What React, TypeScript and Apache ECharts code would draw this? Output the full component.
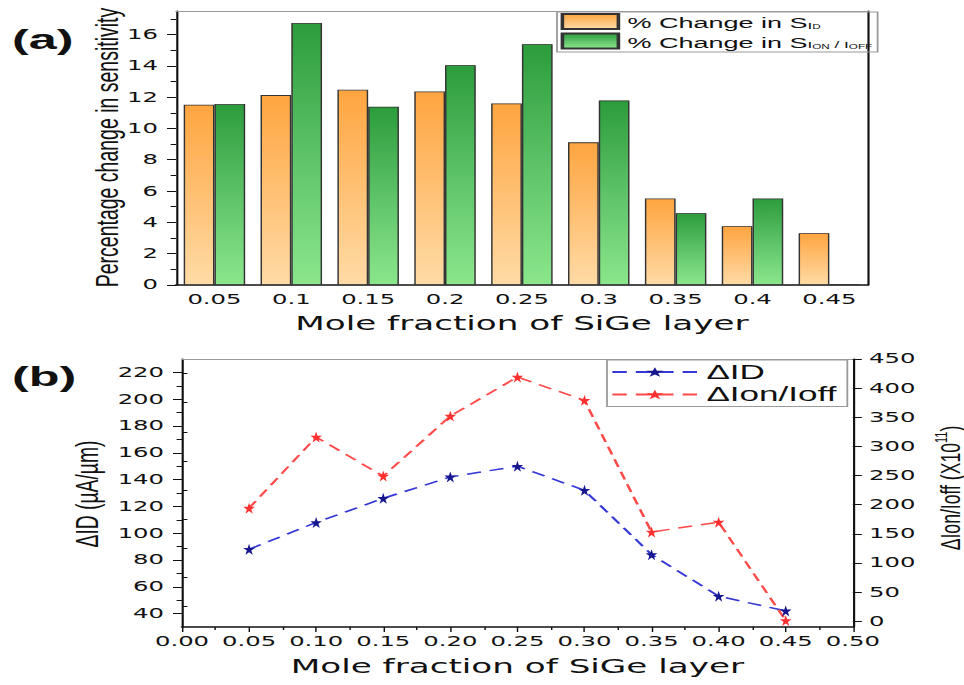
import React, { useEffect, useRef } from "react";
import * as echarts from "echarts";

// The figure is laid out in a narrow frame and widened with a CSS scaleX,
// which gives the wide, flat lettering of the printed figure.
const K = 1.8;
const FULL_W = 964;
const FULL_H = 685;

// (a) percentage change in sensitivity per mole fraction
const fractions = ["0.05", "0.1", "0.15", "0.2", "0.25", "0.3", "0.35", "0.4", "0.45"];
const changeSID = [11.52, 12.13, 12.47, 12.36, 11.6, 9.11, 5.52, 3.76, 3.31];
const changeSOnOff = [11.56, 16.74, 11.39, 14.04, 15.38, 11.79, 4.59, 5.52, 0.05];

// (b) drain current and on/off ratio change
const moleX = [0.05, 0.1, 0.15, 0.2, 0.25, 0.3, 0.35, 0.4, 0.45];
const deltaID = [88, 108, 126, 142, 150, 132, 84, 53, 42];
const deltaIonIoff = [194, 316, 249, 352, 419, 379, 153, 170, 1];

// tick marks
const pctTicks = [0, 2, 4, 6, 8, 10, 12, 14, 16];
const pctMinor = [1, 3, 5, 7, 9, 11, 13, 15, 17];
const idTicks = [40, 60, 80, 100, 120, 140, 160, 180, 200, 220];
const idMinor = [50, 70, 90, 110, 130, 150, 170, 190, 210];
const ratioTicks = [0, 50, 100, 150, 200, 250, 300, 350, 400, 450];
const ratioMinor = [25, 75, 125, 175, 225, 275, 325, 375, 425];

const NAME_SID = "sid";
const NAME_SONOFF = "sonoff";
const NAME_DID = "ΔID";
const NAME_DRATIO = "ΔIon/Ioff";

const STAR =
  "path://M50 0 L61.23 34.55 L97.55 34.55 L68.16 55.9 L79.39 90.45 L50 69.1 L20.61 90.45 L31.84 55.9 L2.45 34.55 L38.77 34.55 Z";

const INK = "#111";
const BORDER_GREY = "#9a9a9a";
const TICK_FONT = { fontFamily: "DejaVu Sans", fontSize: 13.5, color: INK };
const TITLE_FONT = { fontFamily: "DejaVu Sans", fontSize: 19, color: INK };

const px = (v: number) => v / K;

function buildOption() {
  const orange = new echarts.graphic.LinearGradient(0, 0, 0, 1, [
    { offset: 0, color: "#FFA540" },
    { offset: 1, color: "#FFDBA6" },
  ]);
  const green = new echarts.graphic.LinearGradient(0, 0, 0, 1, [
    { offset: 0, color: "#2C9C3C" },
    { offset: 0.55, color: "#62C66C" },
    { offset: 1, color: "#8BE68B" },
  ]);

  const blackLine = { show: true, onZero: false, lineStyle: { color: INK, width: 1.2 } };
  const noLabel = { show: false };
  const noSplit = { show: false };

  const minorY = (gridIndex: number, min: number, max: number, pos: string, vals: number[]) => ({
    type: "value",
    gridIndex,
    min,
    max,
    position: pos,
    axisLine: { show: false },
    axisTick: { show: true, length: 3, customValues: vals, lineStyle: { color: INK, width: 1 } },
    axisLabel: noLabel,
    splitLine: noSplit,
  });

  return {
    animation: false,
    backgroundColor: "#fff",
    grid: [
      { left: px(176), right: px(FULL_W - 867), top: 11, bottom: FULL_H - 285 },
      { left: px(182), right: px(FULL_W - 852), top: 359, bottom: FULL_H - 627 },
    ],
    xAxis: [
      {
        type: "category",
        gridIndex: 0,
        data: fractions,
        position: "bottom",
        axisLine: { ...blackLine, lineStyle: { color: INK, width: 1.5 } },
        axisTick: { alignWithLabel: true, interval: 0, length: 5, lineStyle: { color: INK, width: 0.8 } },
        axisLabel: { interval: 0, margin: 8, ...TICK_FONT },
        name: "Mole fraction of SiGe layer",
        nameLocation: "middle",
        nameGap: 29,
        nameTextStyle: TITLE_FONT,
      },
      {
        type: "category",
        gridIndex: 0,
        data: fractions,
        position: "bottom",
        axisLine: { show: false, onZero: false },
        axisTick: { alignWithLabel: false, interval: 0, length: 3, lineStyle: { color: INK, width: 0.8 } },
        axisLabel: noLabel,
      },
      {
        type: "category",
        gridIndex: 0,
        data: fractions,
        position: "top",
        axisLine: { show: true, onZero: false, lineStyle: { color: BORDER_GREY, width: 1 } },
        axisTick: { show: false },
        axisLabel: noLabel,
      },
      {
        type: "value",
        gridIndex: 1,
        min: 0,
        max: 0.5,
        interval: 0.05,
        position: "bottom",
        axisLine: { ...blackLine, lineStyle: { color: INK, width: 1.5 } },
        axisTick: { show: true, length: 5, lineStyle: { color: INK, width: 0.8 } },
        minorTick: { show: true, splitNumber: 2, length: 3, lineStyle: { color: INK, width: 0.8 } },
        axisLabel: { margin: 8, formatter: (v: number) => v.toFixed(2), ...TICK_FONT },
        splitLine: noSplit,
        minorSplitLine: noSplit,
        name: "Mole fraction of SiGe layer",
        nameLocation: "middle",
        nameGap: 30,
        nameTextStyle: TITLE_FONT,
      },
      {
        type: "value",
        gridIndex: 1,
        min: 0,
        max: 0.5,
        position: "top",
        axisLine: { show: true, onZero: false, lineStyle: { color: BORDER_GREY, width: 1 } },
        axisTick: { show: false },
        axisLabel: noLabel,
        splitLine: noSplit,
      },
    ],
    yAxis: [
      {
        type: "value",
        gridIndex: 0,
        min: 0,
        max: 17.5,
        position: "left",
        axisLine: blackLine,
        axisTick: { show: true, length: 5, customValues: pctTicks, lineStyle: { color: INK, width: 1 } },
        axisLabel: { customValues: pctTicks, margin: 10, ...TICK_FONT },
        splitLine: noSplit,
      },
      minorY(0, 0, 17.5, "left", pctMinor),
      {
        type: "value",
        gridIndex: 0,
        min: 0,
        max: 17.5,
        position: "right",
        axisLine: blackLine,
        axisTick: { show: false },
        axisLabel: noLabel,
        splitLine: noSplit,
      },
      {
        type: "value",
        gridIndex: 1,
        min: 30,
        max: 230,
        position: "left",
        axisLine: blackLine,
        axisTick: { show: true, length: 5, customValues: idTicks, lineStyle: { color: INK, width: 1 } },
        axisLabel: { customValues: idTicks, margin: 10, ...TICK_FONT },
        splitLine: noSplit,
      },
      minorY(1, 30, 230, "left", idMinor),
      {
        type: "value",
        gridIndex: 1,
        min: -10,
        max: 450,
        position: "right",
        axisLine: blackLine,
        axisTick: { show: true, length: 5, customValues: ratioTicks, lineStyle: { color: INK, width: 1 } },
        axisLabel: { customValues: ratioTicks, margin: 9, ...TICK_FONT },
        splitLine: noSplit,
      },
      minorY(1, -10, 450, "right", ratioMinor),
    ],
    legend: [
      {
        data: [NAME_SID, NAME_SONOFF],
        orient: "vertical",
        left: px(557),
        top: 12,
        icon: "rect",
        itemWidth: px(56),
        itemHeight: 15,
        itemGap: 2,
        padding: [1, 3, 2, 2],
        borderColor: BORDER_GREY,
        borderWidth: 1,
        selectedMode: false,
        formatter: (name: string) =>
          name === NAME_SID
            ? "{n|% Change in S}{s1|I}{s2|D}"
            : "{n|% Change in S}{s1|I}{s2|ON}{s1| / I}{s2|OFF}",
        textStyle: {
          color: INK,
          fontFamily: "Liberation Sans",
          rich: {
            n: { fontSize: 15, lineHeight: 18, verticalAlign: "bottom", fontFamily: "Liberation Sans", color: INK },
            s1: { fontSize: 9.5, lineHeight: 11, verticalAlign: "bottom", fontFamily: "Liberation Sans", color: INK },
            s2: { fontSize: 6.5, lineHeight: 6, verticalAlign: "bottom", fontFamily: "Liberation Sans", color: INK },
          },
        },
      },
      {
        data: [NAME_DID, NAME_DRATIO],
        orient: "vertical",
        left: px(607),
        top: 360,
        itemWidth: px(85),
        itemHeight: 12,
        itemGap: 2.5,
        padding: [2, 6, 2, 2],
        borderColor: BORDER_GREY,
        borderWidth: 1,
        selectedMode: false,
        textStyle: { color: INK, fontFamily: "Liberation Sans", fontSize: 19.5 },
      },
    ],
    series: [
      {
        name: NAME_SID,
        type: "bar",
        xAxisIndex: 0,
        yAxisIndex: 0,
        data: changeSID,
        barGap: "0%",
        barCategoryGap: "20%",
        itemStyle: { color: orange, borderColor: "#333", borderWidth: 0.8 },
      },
      {
        name: NAME_SONOFF,
        type: "bar",
        xAxisIndex: 0,
        yAxisIndex: 0,
        data: changeSOnOff,
        barGap: "0%",
        barCategoryGap: "20%",
        itemStyle: { color: green, borderColor: "#333", borderWidth: 0.8 },
      },
      {
        name: NAME_DID,
        type: "line",
        xAxisIndex: 3,
        yAxisIndex: 3,
        data: moleX.map((x, i) => [x, deltaID[i]]),
        symbol: STAR,
        symbolSize: [6.5, 11],
        lineStyle: { type: [8, 5], width: 1.5, color: "#3438d4" },
        itemStyle: { color: "#16168f" },
      },
      {
        name: NAME_DRATIO,
        type: "line",
        xAxisIndex: 3,
        yAxisIndex: 5,
        data: moleX.map((x, i) => [x, deltaIonIoff[i]]),
        symbol: STAR,
        symbolSize: [6.5, 11],
        lineStyle: { type: [8, 5], width: 1.5, color: "#ff4a4a" },
        itemStyle: { color: "#ff3030" },
      },
    ],
    graphic: [
      {
        type: "text",
        x: px(12),
        y: 39,
        style: { text: "(a)", fontFamily: "Liberation Sans", fontWeight: "bold", fontSize: 28, fill: INK, verticalAlign: "middle" },
      },
      {
        type: "text",
        x: px(12),
        y: 376,
        style: { text: "(b)", fontFamily: "Liberation Sans", fontWeight: "bold", fontSize: 28, fill: INK, verticalAlign: "middle" },
      },
      {
        type: "text",
        x: px(107),
        y: 147.5,
        rotation: Math.PI / 2,
        scaleY: 0.88,
        style: {
          text: "Percentage change in sensitivity",
          fontFamily: "Liberation Sans",
          fontSize: 19.5,
          fill: INK,
          align: "center",
          verticalAlign: "middle",
        },
      },
      {
        type: "text",
        x: px(87),
        y: 494,
        rotation: Math.PI / 2,
        scaleY: 0.9,
        style: {
          text: "ΔID (µA/µm)",
          fontFamily: "Liberation Sans",
          fontSize: 19.3,
          fill: INK,
          align: "center",
          verticalAlign: "middle",
        },
      },
      {
        type: "text",
        x: px(950),
        y: 488,
        rotation: Math.PI / 2,
        scaleY: 0.86,
        style: {
          text: "ΔIon/Ioff (X10{sup|11})",
          fontFamily: "Liberation Sans",
          fontSize: 17.6,
          lineHeight: 22,
          fill: INK,
          align: "center",
          verticalAlign: "middle",
          rich: {
            sup: { fontSize: 11, lineHeight: 11, verticalAlign: "top", fontFamily: "Liberation Sans", fill: INK },
          },
        },
      },
    ],
  };
}

export default function App() {
  const ref = useRef<HTMLDivElement>(null);

  useEffect(() => {
    if (!ref.current) return;
    const chart = echarts.init(ref.current, undefined, { renderer: "svg" });
    chart.setOption(buildOption() as any);
    return () => chart.dispose();
  }, []);

  return (
    <div
      ref={ref}
      style={{
        position: "fixed",
        left: 0,
        top: 0,
        width: FULL_W / K,
        height: FULL_H,
        transform: `scaleX(${K})`,
        transformOrigin: "0 0",
        background: "#fff",
      }}
    />
  );
}
